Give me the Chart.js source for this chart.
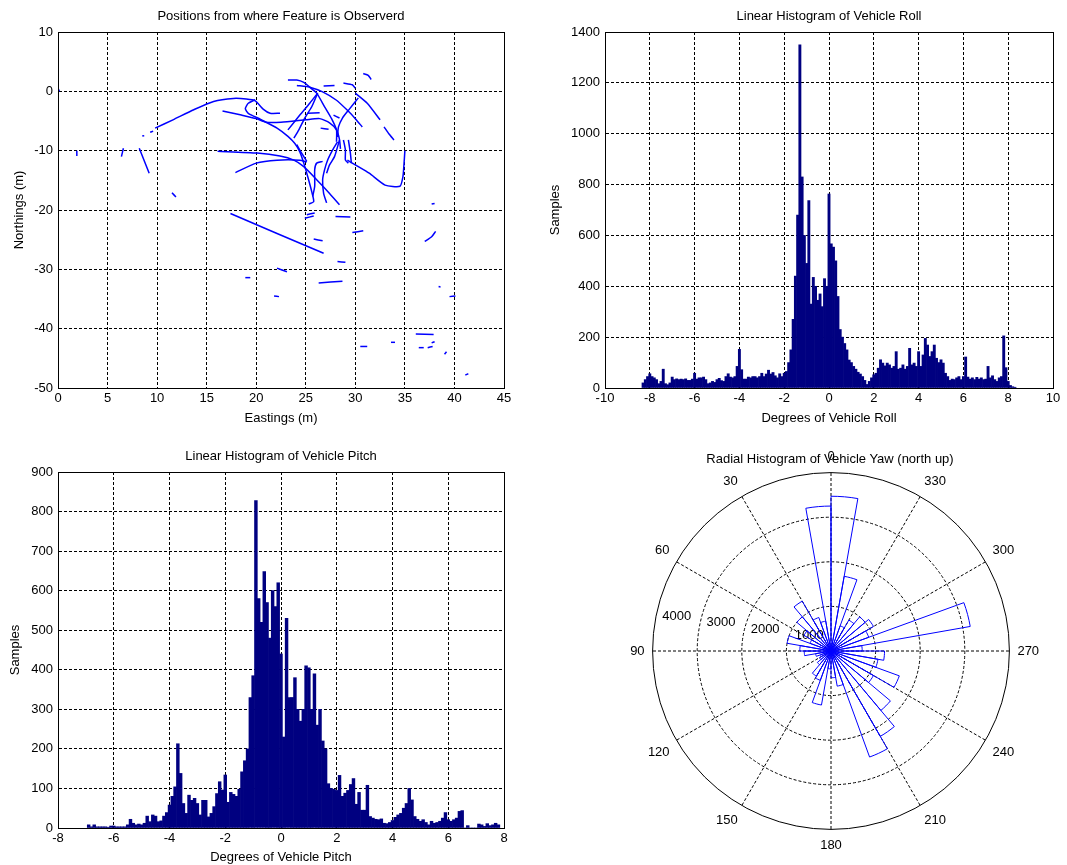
<!DOCTYPE html>
<html lang="en">
<head>
<meta charset="UTF-8">
<title>Vehicle Attitude and Feature Positions</title>
<script src="https://cdn.jsdelivr.net/npm/chart.js"></script>
<style>
  html, body { margin: 0; padding: 0; background: #fff; overflow: hidden; }
  #page { position: relative; width: 1067px; height: 865px; font-family: 'Liberation Sans', Arial, sans-serif; }
  canvas { position: absolute; }
  #posChart { left: 0; top: 0; }
  #rollChart { left: 540px; top: 0; }
  #pitchChart { left: 0; top: 440px; }
  #yawChart { left: 596px; top: 450px; }
  .polar-title { position: absolute; left: 630px; top: 451px; width: 400px; text-align: center; font-size: 13px; line-height: 16px; color: #000; }
</style>
</head>
<body>
<div id="page">
  <canvas id="posChart" width="530" height="440"></canvas>
  <canvas id="rollChart" width="527" height="440"></canvas>
  <canvas id="pitchChart" width="530" height="425"></canvas>
  <canvas id="yawChart" width="470" height="404"></canvas>
  <div class="polar-title">Radial Histogram of Vehicle Yaw (north up)</div>
</div>
<script>
// each track: east, north, east, north ... (m)
const featureTracks = [
  [9.8,-6.2, 11.6,-4.8, 13.7,-3.1, 15.7,-1.7, 17.7,-1.2, 19.0,-1.3, 19.9,-1.6, 20.7,-3.0, 21.4,-3.7, 22.4,-3.7],
  [19.9,-1.4, 19.2,-2.0, 18.9,-2.9, 19.2,-3.7, 20.4,-4.7, 22.1,-6.2, 23.2,-7.6, 23.9,-8.8, 24.4,-10.2, 24.8,-12.1, 25.2,-14.4, 25.6,-16.9, 25.8,-18.6, 25.3,-19.0],
  [16.6,-3.3, 18.5,-4.0, 20.0,-4.6, 21.0,-5.2, 22.5,-5.2, 25.0,-4.8, 26.4,-4.6, 27.4,-5.3, 28.1,-6.5, 28.4,-8.1, 28.5,-9.7],
  [17.9,-13.7, 20.0,-12.1, 22.1,-11.6, 24.4,-11.6, 25.1,-11.9],
  [16.1,-10.1, 20.1,-10.4, 22.4,-10.9, 23.8,-11.6, 24.8,-12.7, 26.1,-14.9, 27.4,-17.2, 28.4,-19.1],
  [23.2,1.9, 24.1,1.9, 24.8,1.5, 25.4,0.7, 26.1,-0.3, 26.9,-2.6, 27.6,-4.6, 28.1,-6.5, 28.1,-8.5],
  [24.1,1.0, 25.4,0.7, 26.7,-0.1, 28.1,-1.5, 29.2,-3.2, 30.0,-4.6, 30.7,-6.0],
  [26.2,-0.3, 25.6,-2.6, 24.9,-4.5, 24.3,-6.5, 23.8,-7.9],
  [26.2,-0.3, 25.4,-2.0, 24.4,-4.0, 23.2,-6.5],
  [30.3,-1.1, 29.4,-3.0, 28.7,-4.5, 28.3,-6.0, 28.2,-7.7],
  [30.0,-0.3, 31.2,-2.0, 32.5,-4.8],
  [32.9,-6.0, 33.4,-7.2, 33.9,-8.2],
  [29.2,-11.6, 30.0,-12.4, 31.4,-13.8, 33.0,-15.8, 34.5,-16.0, 34.8,-14.4, 34.9,-12.5, 35.0,-10.0],
  [28.8,-8.2, 29.0,-9.9, 29.0,-11.6, 29.3,-12.1],
  [29.3,-8.2, 29.5,-10.4, 29.6,-12.1],
  [28.2,-8.5, 27.7,-9.9, 27.2,-11.6, 26.9,-13.2, 26.7,-14.9, 26.8,-17.2, 27.1,-18.8],
  [28.4,-8.2, 27.9,-11.0, 27.4,-12.4, 27.1,-13.8],
  [26.7,-11.8, 26.1,-12.1, 25.9,-13.2, 25.9,-16.0, 25.7,-17.7],
  [25.2,-3.7, 26.4,-3.6],
  [26.5,-6.2, 27.3,-6.4],
  [30.8,3.0, 31.3,2.7, 31.6,2.0],
  [26.8,0.9, 27.9,1.0],
  [28.8,1.4, 29.7,1.1, 30.0,0.5],
  [27.8,-4.0, 28.4,-4.5],
  [0.0,0.5, 0.15,0.0],
  [1.9,-10.0, 1.9,-10.9],
  [6.6,-9.6, 6.4,-11.0],
  [8.2,-9.6, 9.2,-13.8],
  [11.5,-17.1, 11.9,-17.8],
  [17.4,-20.6, 26.8,-27.3],
  [24.9,-21.4, 25.8,-21.0],
  [28.0,-21.1, 29.5,-21.2],
  [25.8,-24.9, 26.7,-25.2],
  [29.7,-23.8, 30.8,-23.5],
  [28.2,-28.7, 29.0,-28.8],
  [22.1,-29.8, 23.1,-30.4],
  [18.9,-31.4, 19.4,-31.4],
  [26.3,-32.3, 28.7,-32.0],
  [21.8,-34.5, 22.3,-34.6],
  [37.7,-19.0, 38.0,-18.9],
  [37.0,-25.3, 37.7,-24.5, 38.1,-23.6],
  [38.4,-32.9, 38.6,-33.0],
  [39.5,-34.6, 40.1,-34.5],
  [36.1,-40.9, 37.9,-41.0],
  [33.6,-42.3, 34.0,-42.3],
  [30.5,-43.0, 31.2,-43.0],
  [36.4,-43.2, 36.9,-43.2],
  [37.3,-43.2, 37.8,-43.0],
  [37.7,-42.4, 38.0,-42.2],
  [39.0,-44.3, 39.2,-43.9],
  [41.1,-47.8, 41.4,-47.6],
  [9.3,-6.9, 9.6,-6.7],
  [8.5,-7.5, 8.7,-7.5],
  [24.1,-9.0, 24.4,-9.9, 25.1,-11.8],
  [25.1,-20.8, 25.9,-20.5]
];

// roll histogram, 0.1 deg bins from -8.3
const rollStart = -8.3;
const rollBinWidth = 0.1;
const rollCounts = [
  20, 33, 45, 56, 45, 40, 33, 17, 26, 74,
  17, 13, 20, 43, 33, 36, 33, 35, 33, 36,
  30, 30, 35, 58, 35, 40, 40, 43, 33, 17,
  20, 26, 22, 33, 38, 29, 26, 45, 56, 43,
  40, 45, 85, 152, 72, 35, 35, 43, 40, 45,
  45, 40, 45, 58, 45, 55, 70, 55, 61, 48,
  40, 56, 45, 58, 65, 100, 150, 270, 440, 680,
  1350, 830, 600, 490, 737, 330, 435, 400, 345, 370,
  320, 430, 400, 763, 567, 554, 500, 360, 230, 200,
  175, 150, 110, 100, 85, 74, 62, 55, 45, 30,
  14, 26, 40, 52, 58, 78, 111, 98, 87, 98,
  91, 78, 85, 143, 74, 78, 91, 74, 85, 156,
  91, 98, 85, 143, 85, 130, 195, 169, 124, 143,
  169, 117, 100, 111, 98, 58, 45, 30, 35, 33,
  40, 45, 33, 45, 122, 43, 35, 40, 33, 42,
  35, 40, 33, 35, 85, 40, 48, 33, 26, 40,
  45, 205, 80, 26, 10, 5, 3
];

// pitch histogram, 0.1 deg bins from -6.9
const pitchStart = -6.9;
const pitchBinWidth = 0.1;
const pitchCounts = [
  8, 3, 8, 3, 3, 3, 3, 2, 5, 5,
  3, 3, 3, 3, 8, 22, 12, 8, 10, 8,
  12, 30, 16, 33, 30, 16, 18, 30, 39, 58,
  80, 104, 213, 138, 62, 37, 83, 70, 75, 62,
  33, 70, 70, 28, 37, 54, 87, 117, 96, 134,
  65, 90, 85, 80, 98, 142, 170, 200, 330, 385,
  828, 580, 520, 648, 570, 480, 600, 560, 620, 440,
  230, 530, 330, 330, 380, 300, 270, 300, 410, 405,
  300, 390, 260, 300, 220, 200, 112, 100, 98, 95,
  133, 80, 88, 95, 110, 125, 60, 90, 45, 45,
  108, 29, 25, 22, 21, 23, 12, 11, 14, 19,
  27, 33, 37, 50, 62, 100, 71, 29, 22, 17,
  21, 14, 8, 17, 12, 14, 17, 25, 39, 21,
  17, 21, 25, 42, 44, 0, 6, 0, 0, 0,
  10, 8, 4, 11, 6, 8, 12, 8
];

// yaw rose, 10 deg bins: 0-10, 10-20, ... 350-360
const yawCounts = [
  3250, 680, 800, 1290, 1000, 700, 500, 1000, 700,
  600, 350, 250, 300, 400, 650, 700, 1230, 400,
  600, 800, 2530, 2210, 1740, 1100, 1630, 1070, 1200,
  700, 3170, 900, 1100, 1000, 800, 600, 1700, 3470
];
// clockwise from the top
const yawTickLabels = ['0', '330', '300', '270', '240', '210', '180', '150', '120', '90', '60', '30'];
const yawRadiusTicks = [1000, 2000, 3000, 4000];

const FONT = "'Liberation Sans', Arial, sans-serif";
Chart.defaults.font.family = FONT;
Chart.defaults.font.size = 13;
Chart.defaults.color = '#000';

const boxPlugin = {
  id: 'axesBox',
  afterDraw(chart) {
    const { ctx, chartArea: a } = chart;
    ctx.save();
    ctx.strokeStyle = '#000';
    ctx.lineWidth = 1;
    ctx.strokeRect(a.left + 0.5, a.top + 0.5, a.right - a.left, a.bottom - a.top);
    ctx.restore();
  }
};

function axesOptions(cfg) {
  return {
    responsive: false,
    animation: false,
    events: [],
    layout: { padding: { left: 0, right: cfg.padRight, top: 0, bottom: 0 } },
    plugins: {
      legend: { display: false },
      tooltip: { enabled: false },
      title: {
        display: true, text: cfg.title, fullSize: false, color: '#000',
        font: { size: 13, weight: 'normal' }, padding: { top: 8.2, bottom: 8.2 }
      }
    },
    scales: {
      x: {
        type: 'linear', position: 'bottom', min: cfg.x[0], max: cfg.x[1], offset: false,
        ticks: { stepSize: cfg.x[2], padding: 3, maxRotation: 0, autoSkip: false, callback: v => String(v) },
        grid: { color: '#000', lineWidth: 1, drawTicks: false, offset: false },
        border: { color: '#000', dash: [3, 2] },
        title: { display: true, text: cfg.xTitle, color: '#000', padding: { top: 0, bottom: cfg.xTitlePad } },
        afterFit: s => { s.height = cfg.xHeight; }
      },
      y: {
        type: 'linear', position: 'left', min: cfg.y[0], max: cfg.y[1],
        ticks: { stepSize: cfg.y[2], padding: 5, callback: v => String(v) },
        grid: { color: '#000', lineWidth: 1, drawTicks: false },
        border: { color: '#000', dash: [3, 2] },
        title: { display: true, text: cfg.yTitle, color: '#000', padding: { top: cfg.yTitlePad, bottom: 0 } },
        afterFit: s => { s.width = cfg.yWidth; }
      }
    }
  };
}

function binPoints(start, width, counts) {
  return counts.map((c, i) => ({ x: +(start + i * width).toFixed(2), y: c }));
}

// positions plot
const trackSets = featureTracks.map(t => {
  const pts = [];
  for (let i = 0; i < t.length; i += 2) pts.push({ x: t[i], y: t[i + 1] });
  return { data: pts, showLine: true, borderColor: '#0000ff', borderWidth: 1.5, pointRadius: 0, tension: 0.2, fill: false };
});

new Chart(document.getElementById('posChart'), {
  type: 'scatter',
  data: { datasets: trackSets },
  options: axesOptions({
    title: 'Positions from where Feature is Observerd',
    x: [0, 45, 5], y: [-50, 10, 10],
    xTitle: 'Eastings (m)', yTitle: 'Northings (m)',
    padRight: 26, xHeight: 52, xTitlePad: 14.2, yWidth: 58, yTitlePad: 11.2
  }),
  plugins: [boxPlugin]
});

new Chart(document.getElementById('rollChart'), {
  type: 'bar',
  data: {
    datasets: [{
      data: binPoints(rollStart, rollBinWidth, rollCounts),
      backgroundColor: '#000080', borderWidth: 0, barPercentage: 1, categoryPercentage: 1
    }]
  },
  options: axesOptions({
    title: 'Linear Histogram of Vehicle Roll',
    x: [-10, 10, 2], y: [0, 1400, 200],
    xTitle: 'Degrees of Vehicle Roll', yTitle: 'Samples',
    padRight: 14, xHeight: 52, xTitlePad: 14.2, yWidth: 65, yTitlePad: 7.2
  }),
  plugins: [boxPlugin]
});

new Chart(document.getElementById('pitchChart'), {
  type: 'bar',
  data: {
    datasets: [{
      data: binPoints(pitchStart, pitchBinWidth, pitchCounts),
      backgroundColor: '#000080', borderWidth: 0, barPercentage: 1, categoryPercentage: 1
    }]
  },
  options: axesOptions({
    title: 'Linear Histogram of Vehicle Pitch',
    x: [-8, 8, 2], y: [0, 900, 100],
    xTitle: 'Degrees of Vehicle Pitch', yTitle: 'Samples',
    padRight: 26, xHeight: 37, xTitlePad: 0, yWidth: 58, yTitlePad: 7.2
  }),
  plugins: [boxPlugin]
});

// rose: wedge i runs clockwise from the top, so it holds yaw bin 35 - i
const yawData = yawCounts.map((c, i) => yawCounts[yawCounts.length - 1 - i]);
const yawLabels = yawData.map((c, i) => (i % 3 === 0 ? yawTickLabels[i / 3] : ''));

const roseFramePlugin = {
  id: 'roseFrame',
  beforeDatasetsDraw(chart) {
    const r = chart.scales.r;
    const ctx = chart.ctx;
    ctx.save();
    ctx.strokeStyle = '#000';
    ctx.lineWidth = 1;
    ctx.beginPath();
    ctx.arc(r.xCenter, r.yCenter, r.drawingArea, 0, Math.PI * 2);
    ctx.stroke();
    ctx.font = '13px ' + FONT;
    ctx.fillStyle = '#000';
    ctx.textAlign = 'left';
    ctx.textBaseline = 'bottom';
    const a = 8 * Math.PI / 180;
    yawRadiusTicks.forEach(v => {
      const d = r.getDistanceFromCenterForValue(v);
      ctx.fillText(String(v), r.xCenter - d * Math.cos(a) + 8, r.yCenter - d * Math.sin(a) - 3);
    });
    ctx.restore();
  }
};

new Chart(document.getElementById('yawChart'), {
  type: 'polarArea',
  data: {
    labels: yawLabels,
    datasets: [{ data: yawData, backgroundColor: 'rgba(0,0,0,0)', borderColor: '#0000ff', borderWidth: 1 }]
  },
  options: {
    responsive: false,
    animation: false,
    events: [],
    plugins: { legend: { display: false }, tooltip: { enabled: false } },
    scales: {
      r: {
        min: 0, max: 4000, startAngle: 0,
        ticks: { display: false, stepSize: 1000 },
        grid: { circular: true, color: '#000', lineWidth: c => (c.tick && c.tick.value === 4000 ? 0 : 1) },
        border: { dash: [3, 2] },
        angleLines: { display: true, color: '#000', borderDash: [3, 2], lineWidth: c => (c.index % 3 === 0 ? 1 : 0) },
        pointLabels: { display: true, padding: 8, color: '#000', font: { size: 13 } }
      }
    }
  },
  plugins: [roseFramePlugin]
});
</script>
</body>
</html>
